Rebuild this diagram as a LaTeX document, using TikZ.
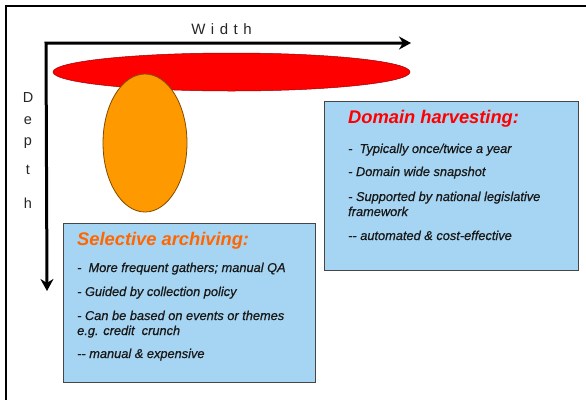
\documentclass[tikz,border=0pt]{standalone}
\usepackage{fontspec}
\setmainfont{Liberation Sans}
\newfontfamily\itemfont[FakeBold=0.6]{Liberation Sans}
\usetikzlibrary{shapes.geometric,arrows.meta}
\definecolor{boxblue}{RGB}{166,213,243}
\definecolor{boxedge}{RGB}{70,70,70}
\definecolor{ellred}{RGB}{255,0,0}
\definecolor{ellorange}{RGB}{255,153,0}
\definecolor{titleorange}{RGB}{255,102,0}
\definecolor{textdark}{RGB}{25,25,25}
\tikzset{
  infobox/.style={draw=boxedge, line width=1.4pt, fill=boxblue},
  item/.style={anchor=base west, inner sep=0pt, text=textdark, font=\itemfont\fontsize{12.8}{15}\selectfont\itshape},
  boxtitle/.style={anchor=base west, inner sep=0pt, font=\fontsize{18.3}{21}\selectfont\bfseries\itshape},
  axis/.style={line width=3pt, {Stealth[length=12pt,width=13pt]}-{Stealth[length=12pt,width=13pt]}},
  letter/.style={inner sep=0pt, text=black!85, font=\fontsize{14.5}{16}\selectfont},
}
\begin{document}
\begin{tikzpicture}[x=1pt,y=-1pt]
\useasboundingbox (0,0) rectangle (586,400);
% frame
\draw[line width=2.5pt] (586,6) -- (6,6) -- (6,400);
% axes
\coordinate (o) at (46,43);
\coordinate (xend) at (411,43);
\coordinate (yend) at (47,291);
\draw[axis] (xend) -- (o) -- (yend);
\node[letter, anchor=base, font=\fontsize{15}{17}\selectfont] (wlabel) at (221.5,34) {W\hspace{5.5pt}i\hspace{5.5pt}d\hspace{5.5pt}t\hspace{5.5pt}h};
\node[letter] (dD) at (28,98) {D};
\node[letter] (de) at (28,121) {e};
\node[letter] (dp) at (28,143) {p};
\node[letter] (dt) at (28,170) {t};
\node[letter] (dh) at (28,203) {h};
% ellipses
\node[ellipse, draw=ellred!60!black, line width=0.5pt, fill=ellred, minimum width=357pt, minimum height=38pt, inner sep=0pt] (red) at (231.5,72) {};
\node[ellipse, draw=ellorange!50!black, line width=0.8pt, fill=ellorange, minimum width=84pt, minimum height=138pt, inner sep=0pt] (orange) at (145,143) {};
% domain box
\node[infobox, minimum width=254pt, minimum height=169pt, anchor=north west, inner sep=0pt] (dombox) at (324,101) {};
\node[boxtitle, text=ellred] (domtitle) at (348,123) {Domain harvesting:};
\node[item] (d1) at (348,153) {-\ \ Typically once/twice a year};
\node[item] (d2) at (348,176) {- Domain wide snapshot};
\node[item] (d3) at (348,201) {- Supported by national legislative};
\node[item] (d4) at (348,216) {framework};
\node[item] (d5) at (348,240) {-{}- automated \& cost-effective};
% selective box
\node[infobox, minimum width=252pt, minimum height=159pt, anchor=north west, inner sep=0pt] (selbox) at (63,223) {};
\node[boxtitle, text=titleorange] (seltitle) at (77,245) {Selective archiving:};
\node[item] (s1) at (77,272) {-\ \ More frequent gathers; manual QA};
\node[item] (s2) at (77,296) {- Guided by collection policy};
\node[item] (s3) at (77,320) {- Can be based on events or themes};
\node[item] (s4) at (77,335) {e.g. credit\ \ crunch};
\node[item] (s5) at (77,358) {-{}- manual \& expensive};
\end{tikzpicture}
\end{document}
